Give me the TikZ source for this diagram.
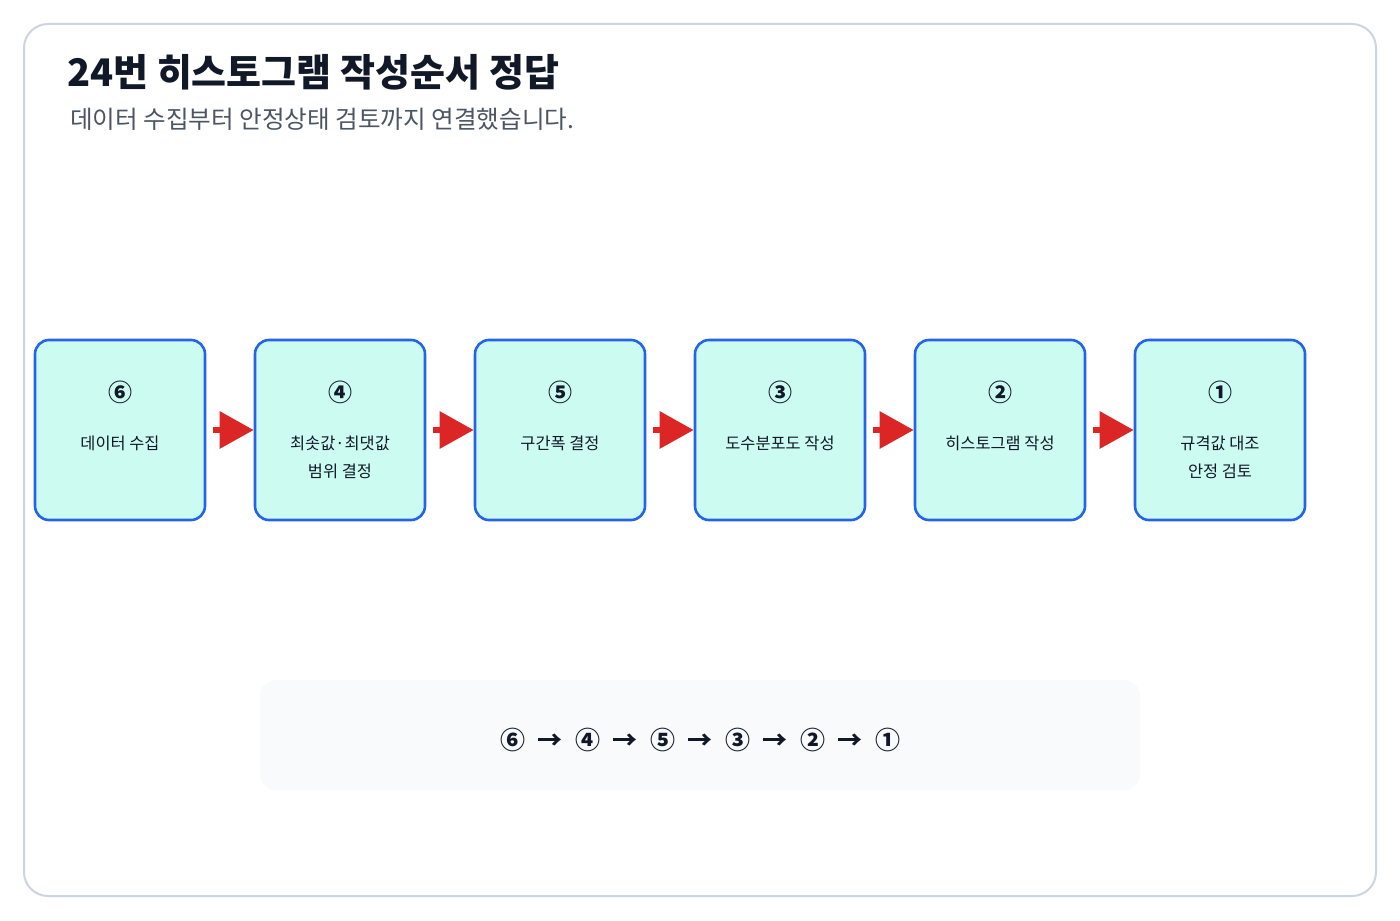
\documentclass[tikz,border=0pt]{standalone}
\usepackage{fontspec}
\setmainfont{Noto Sans CJK KR}
\usetikzlibrary{arrows.meta, positioning}
\definecolor{boxfill}{HTML}{CCFBF1}
\definecolor{boxline}{HTML}{2563EB}
\definecolor{arrowred}{HTML}{DC2626}
\definecolor{framegray}{HTML}{CBD5E1}
\definecolor{panelfill}{HTML}{F8FAFC}
\definecolor{titlecol}{HTML}{111827}
\definecolor{subcol}{HTML}{4B5563}
\tikzset{
  stage/.style = {draw=boxline, line width=1.3pt, fill=boxfill, rounded corners=7pt,
    minimum width=85pt, minimum height=90pt, inner sep=0pt},
  lbl/.style = {font=\fontsize{8.2}{14}\selectfont, align=center, text=titlecol},
  num/.style = {font=\bfseries\fontsize{12}{13}\selectfont, text=titlecol},
  flow/.style = {draw=arrowred, line width=3pt, -{Triangle[length=17pt,width=18pt]}}
}
\begin{document}
\begin{tikzpicture}[x=0.5pt, y=-0.5pt]
\useasboundingbox (0,0) rectangle (1400,920);
\draw[framegray, line width=1pt, rounded corners=12pt] (24,24) rectangle (1376,896);
\node[anchor=west, font=\bfseries\fontsize{19}{22}\selectfont, text=titlecol] (title) at (60,72) {24번 히스토그램 작성순서 정답};
\node[anchor=west, font=\fontsize{12.3}{14}\selectfont, text=subcol] (sub) at (63,119) {데이터 수집부터 안정상태 검토까지 연결했습니다.};
% steps
\node[stage] (b1) at (120,430) {};
\node[stage] (b2) at (340,430) {};
\node[stage] (b3) at (560,430) {};
\node[stage] (b4) at (780,430) {};
\node[stage] (b5) at (1000,430) {};
\node[stage] (b6) at (1220,430) {};
\foreach \b/\n/\t in {b1/⑥/데이터 수집, b2/④/최솟값·최댓값\\범위 결정, b3/⑤/구간폭 결정,
  b4/③/도수분포도 작성, b5/②/히스토그램 작성, b6/①/규격값 대조\\안정 검토}{
  \node[num] at ([yshift=-27pt]\b.north) {\n};
  \node[lbl, anchor=north] at ([yshift=-45pt]\b.north) {\t};
}
\foreach \a/\c in {b1/b2, b2/b3, b3/b4, b4/b5, b5/b6}
  \draw[flow, shorten <=3.5pt] (\a.east) -- (\c.west);
% order summary
\fill[panelfill, rounded corners=8pt] (260,680) rectangle (1140,790);
\node[font=\bfseries\fontsize{12.5}{14}\selectfont, text=titlecol] (order) at (700,740)
  {⑥\enspace→\enspace④\enspace→\enspace⑤\enspace→\enspace③\enspace→\enspace②\enspace→\enspace①};
\end{tikzpicture}
\end{document}
